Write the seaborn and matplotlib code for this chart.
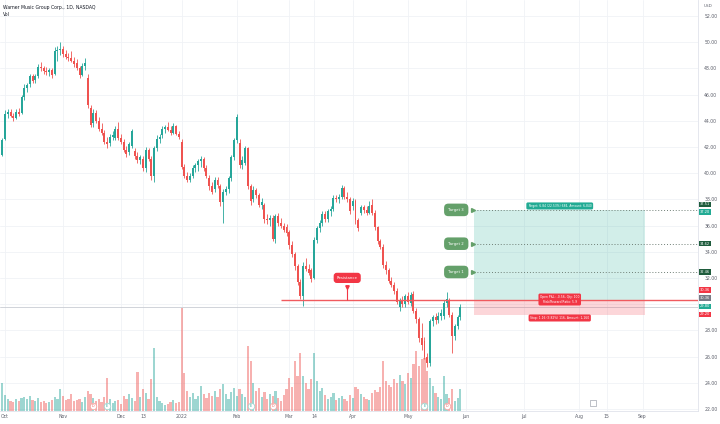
import matplotlib
matplotlib.use('Agg')
import matplotlib.pyplot as plt
import matplotlib.transforms as mtransforms
import numpy as np
import pandas as pd
import seaborn as sns

# ---- data (WMG daily, 1D) ----
holidays = ['2021-11-25', '2021-12-24', '2022-01-17', '2022-02-21', '2022-04-15',
            '2022-05-30', '2022-06-20', '2022-07-04', '2022-09-05']

opens = [41.4, 42.6, 44.5, 44.7, 44.4, 44.2, 44.7, 44.6, 45.8, 46.5,
         46.8, 47.4, 47.1, 47.4, 48.1, 48.0, 47.8, 47.7, 47.9, 47.6,
         49.3, 49.4, 49.5, 49.1, 48.9, 48.8, 48.6, 48.4, 48.0, 47.5,
         48.2, 47.3, 45.0, 43.8, 44.6, 44.0, 43.4, 43.1, 42.4, 42.3,
         42.8, 42.7, 43.4, 42.7, 42.4, 41.8, 41.6, 42.1, 41.7, 41.3,
         41.0, 41.1, 40.4, 41.8, 41.1, 39.8, 41.9, 42.6, 42.9, 43.4,
         43.5, 43.3, 43.1, 43.6, 43.0, 42.4, 40.5, 39.8, 39.5, 39.8,
         40.4, 40.6, 40.9, 41.1, 40.4, 39.6, 39.0, 38.8, 39.5, 39.0,
         37.8, 38.6, 38.8, 39.6, 41.2, 42.5, 42.3, 40.6, 40.8, 41.9,
         39.0, 38.0, 38.7, 38.3, 37.6, 37.6, 36.5, 36.4, 36.6, 35.0,
         36.7, 36.2, 36.0, 35.9, 35.5, 34.5, 33.8, 32.9, 31.7, 30.6,
         32.9, 32.7, 32.6, 32.0, 34.9, 35.8, 36.2, 36.9, 36.5, 37.1,
         37.3, 38.1, 38.0, 38.2, 38.9, 38.2, 38.0, 37.5, 37.9, 36.4,
         37.0, 37.4, 37.2, 37.0, 37.6, 37.0, 35.9, 34.8, 34.4, 33.0,
         32.6, 31.8, 31.5, 31.0, 29.8, 30.3, 30.0, 30.6, 30.1, 30.8,
         29.5, 28.9, 27.4, 27.2, 26.0, 25.5, 28.7, 29.0, 28.8, 29.1,
         29.1, 30.1, 30.3, 29.2, 27.6, 28.3, 29.0]
highs = [42.7, 44.8, 44.9, 44.9, 44.6, 44.9, 45.0, 46.0, 46.8, 46.9,
         47.6, 47.6, 47.6, 48.3, 48.5, 48.2, 48.1, 48.0, 48.0, 49.6,
         49.7, 50.0, 49.7, 49.4, 49.2, 49.3, 48.9, 48.7, 48.2, 48.4,
         48.8, 47.6, 45.2, 44.9, 44.8, 44.3, 43.8, 43.3, 42.8, 43.0,
         43.2, 43.6, 43.9, 43.0, 42.6, 42.1, 42.4, 43.4, 41.9, 41.6,
         41.4, 41.3, 42.0, 41.9, 41.3, 42.1, 42.9, 43.0, 43.6, 43.7,
         43.9, 43.6, 43.8, 43.7, 43.2, 42.6, 40.7, 40.1, 40.0, 40.6,
         40.8, 41.1, 41.3, 41.2, 40.6, 39.9, 39.3, 39.7, 39.7, 39.2,
         38.8, 39.0, 39.8, 41.4, 42.7, 44.5, 42.6, 41.3, 42.1, 42.0,
         39.2, 39.0, 38.9, 38.5, 38.1, 37.7, 36.9, 36.8, 36.8, 36.9,
         37.0, 36.6, 36.2, 36.1, 35.7, 34.8, 34.0, 33.1, 31.9, 33.2,
         33.5, 33.1, 32.8, 35.1, 36.0, 36.4, 37.1, 37.1, 37.3, 37.5,
         38.3, 38.3, 38.4, 39.1, 39.0, 38.6, 38.2, 38.1, 38.0, 36.6,
         37.6, 37.6, 37.5, 37.9, 38.0, 37.2, 36.0, 35.0, 34.6, 33.3,
         32.8, 32.1, 31.7, 31.2, 30.5, 30.6, 30.8, 30.9, 30.9, 31.0,
         29.7, 29.0, 28.6, 27.5, 26.3, 28.9, 29.2, 29.3, 29.4, 29.6,
         30.3, 30.9, 30.5, 29.4, 28.5, 29.2, 30.0]
lows = [41.3, 42.5, 44.2, 44.3, 44.0, 44.1, 44.4, 44.5, 45.6, 46.2,
        46.6, 46.9, 46.9, 47.3, 47.8, 47.6, 47.5, 47.4, 47.3, 47.5,
        48.6, 49.0, 48.9, 48.7, 48.6, 48.5, 48.1, 47.9, 47.3, 47.4,
        47.9, 45.0, 43.5, 43.5, 43.8, 43.2, 42.9, 42.2, 41.9, 42.1,
        42.5, 42.5, 42.5, 42.2, 41.6, 41.2, 41.4, 41.9, 41.1, 40.8,
        40.7, 40.2, 40.1, 40.9, 39.5, 39.3, 41.7, 42.3, 42.7, 43.1,
        43.2, 42.9, 43.0, 42.9, 42.6, 40.3, 39.6, 39.3, 39.3, 39.6,
        40.1, 40.2, 40.5, 40.2, 39.6, 38.7, 38.4, 38.6, 38.9, 37.5,
        36.2, 38.3, 38.5, 39.4, 41.0, 42.3, 40.4, 40.3, 40.6, 38.8,
        37.6, 37.8, 38.1, 37.4, 37.3, 36.2, 36.1, 36.0, 34.8, 34.7,
        36.0, 35.8, 35.5, 35.2, 34.2, 33.6, 32.6, 31.5, 30.4, 29.9,
        32.5, 32.2, 31.7, 31.9, 34.7, 35.5, 36.0, 36.3, 36.3, 36.7,
        37.1, 37.8, 37.7, 38.0, 38.0, 37.8, 36.9, 37.2, 36.1, 35.6,
        36.8, 37.0, 36.8, 36.9, 36.8, 35.7, 34.6, 34.2, 32.8, 32.3,
        31.6, 31.3, 30.8, 30.0, 29.5, 29.8, 29.8, 30.0, 29.9, 29.3,
        28.6, 27.1, 26.5, 25.8, 25.2, 25.3, 28.3, 28.5, 28.6, 28.8,
        28.9, 29.8, 29.0, 26.3, 27.3, 28.1, 28.8]
closes = [42.5, 44.5, 44.7, 44.4, 44.2, 44.7, 44.5, 45.8, 46.5, 46.7,
          47.4, 47.0, 47.4, 48.1, 48.0, 47.8, 47.7, 47.9, 47.5, 49.3,
          49.4, 49.5, 49.1, 48.9, 48.8, 48.6, 48.3, 48.0, 47.5, 48.2,
          48.4, 45.2, 43.7, 44.6, 44.0, 43.4, 43.1, 42.4, 42.2, 42.8,
          42.9, 43.4, 42.7, 42.4, 41.8, 41.5, 42.2, 43.2, 41.3, 41.0,
          41.2, 40.4, 41.8, 41.1, 39.8, 41.9, 42.6, 42.8, 43.4, 43.5,
          43.3, 43.1, 43.6, 43.0, 42.8, 40.5, 39.8, 39.5, 39.8, 40.4,
          40.6, 40.9, 41.1, 40.4, 39.8, 39.0, 38.6, 39.5, 39.1, 37.8,
          38.6, 38.8, 39.6, 41.2, 42.5, 44.3, 40.6, 41.0, 41.9, 39.0,
          37.9, 38.7, 38.3, 37.6, 37.8, 36.5, 36.4, 36.6, 35.0, 36.7,
          36.2, 36.0, 35.7, 35.4, 34.5, 33.8, 32.9, 31.7, 30.6, 32.9,
          32.7, 32.4, 31.9, 34.9, 35.8, 36.2, 36.9, 36.5, 37.1, 37.3,
          38.1, 38.0, 38.2, 38.9, 38.2, 38.0, 37.1, 37.9, 36.4, 35.8,
          37.4, 37.2, 37.0, 37.5, 37.0, 35.9, 34.8, 34.4, 33.0, 32.6,
          31.8, 31.5, 31.0, 30.2, 30.3, 30.0, 30.6, 30.2, 30.7, 29.5,
          28.9, 27.4, 26.9, 26.0, 25.5, 28.7, 29.0, 28.8, 29.1, 29.3,
          30.1, 30.4, 29.2, 27.6, 28.3, 29.0, 29.8]
volumes = [2.3, 1.3, 1.0, 0.8, 0.75, 1.0, 0.8, 1.1, 1.2, 1.0,
           1.25, 0.9, 0.85, 1.1, 0.75, 0.85, 0.7, 0.75, 0.9, 1.15,
           1.0, 1.8, 1.25, 0.9, 1.0, 1.4, 0.85, 0.9, 1.0, 0.75,
           1.15, 1.65, 1.4, 1.1, 0.85, 1.0, 0.75, 1.15, 2.75, 1.0,
           0.65, 0.85, 0.9, 0.6, 1.25, 1.0, 1.4, 1.1, 0.85, 3.25,
           1.15, 1.8, 1.5, 1.0, 2.65, 5.25, 1.15, 0.85, 0.65, 0.5,
           0.6, 0.75, 0.9, 0.65, 0.75, 8.6, 3.15, 1.65, 1.15, 1.5,
           1.0, 1.25, 2.1, 1.4, 1.1, 1.5, 1.25, 1.65, 1.15, 1.8,
           2.25, 1.4, 1.0, 1.6, 1.9, 1.25, 1.8, 1.4, 1.15, 5.4,
           4.15, 2.35, 1.65, 1.9, 1.15, 1.6, 1.0, 1.4, 1.25, 1.65,
           1.1, 0.85, 1.35, 1.8, 2.75, 2.0, 4.15, 2.9, 4.85, 2.9,
           2.35, 1.8, 2.65, 4.85, 2.5, 1.65, 1.9, 1.35, 1.0, 1.15,
           1.5, 0.9, 1.1, 1.25, 1.0, 0.85, 1.35, 1.1, 2.0, 1.8,
           1.4, 1.15, 1.0, 0.9, 1.5, 1.75, 1.6, 2.0, 4.15, 2.5,
           2.15, 2.0, 2.65, 2.35, 3.0, 2.5, 2.25, 3.15, 2.75, 3.9,
           5.0, 3.75, 4.35, 4.4, 3.35, 2.75, 2.1, 1.5, 1.15, 1.0,
           2.9, 1.4, 1.1, 1.8, 0.85, 1.1, 1.8]

tick_dates = ['2021-10-01', '2021-11-01', '2021-12-01', '2021-12-13', '2022-01-03',
              '2022-02-01', '2022-03-01', '2022-03-14', '2022-04-01', '2022-05-02',
              '2022-06-01', '2022-07-01', '2022-08-01', '2022-08-15', '2022-09-01']
tick_labels = ['Oct', 'Nov', 'Dec', '13', '2022', 'Feb', 'Mar', '14', 'Apr', 'May',
               'Jun', 'Jul', 'Aug', '15', 'Sep']
price_ticks = list(range(22, 54, 2))
hidden_price_labels = [30]   # covered by the price tags on the axis

# drawings on the chart
resistance = 30.36
resistance_start = '2022-02-24'
resistance_label_date = '2022-03-30'
targets = [32.46, 34.62, 37.20]
target_names = ['Target 1', 'Target 2', 'Target 3']
target_label_date = '2022-05-26'
position_start, position_end = '2022-06-06', '2022-09-02'
entry, take_profit, stop = 30.36, 37.20, 29.20
earnings_dates = ['2021-11-23', '2022-02-08', '2022-05-10']
dividend_dates = ['2021-11-16', '2022-02-18', '2022-05-20']
next_earnings = '2022-08-08'
axis_tags = [(37.62, '37.51', '#1f5c3d'), (37.05, '37.20', '#22ab94'),
             (34.62, '34.62', '#1f5c3d'), (32.46, '32.46', '#1f5c3d'),
             (31.08, '30.36', '#f23645'), (30.46, '30.36', '#787b86'),
             (29.84, '29.80', '#22ab94'), (29.22, '29.20', '#f23645')]

UP = '#26a69a'
DOWN = '#ef5350'

sns.set_theme(style='white')
plt.rcParams['font.family'] = ['DejaVu Sans']

calendar = pd.bdate_range('2021-09-30', '2022-09-30')
calendar = calendar[~calendar.isin(pd.to_datetime(holidays))]


def bar_index(day):
    return int(calendar.searchsorted(pd.Timestamp(day)))


df = pd.DataFrame({'open': opens, 'high': highs, 'low': lows,
                   'close': closes, 'volume': volumes})
df['idx'] = np.arange(len(df))
df['date'] = calendar[:len(df)]
df['dir'] = np.where(df['close'] >= df['open'], 'up', 'down')

y_lo, y_hi = 21.85, 53.22
x_left, x_right = -0.81, 252.1
vol_top = 34.25

fig = plt.figure(figsize=(7.2, 4.24), dpi=100)
rect = [0, 13 / 424, 698 / 720, 411 / 424]
ax_vol = fig.add_axes(rect)
ax = fig.add_axes(rect, sharex=ax_vol)
ax.patch.set_visible(False)

# volume histogram (bottom layer, also carries the grid)
sns.barplot(data=df, x='idx', y='volume', hue='dir',
            palette={'up': UP, 'down': DOWN}, native_scale=True, dodge=False,
            errorbar=None, legend=False, saturation=1, alpha=0.45,
            width=0.8, linewidth=0, ax=ax_vol)
ax_vol.set_ylim(0, vol_top)
ax_vol.set_yticks([(p - y_lo) / (y_hi - y_lo) * vol_top for p in price_ticks])
ax_vol.set_xlabel('')
ax_vol.set_ylabel('')
ax_vol.tick_params(length=0, labelleft=False, labelbottom=False)
ax_vol.grid(True, color='#f0f2f6', linewidth=0.6)
ax_vol.set_axisbelow(True)
for side in ax_vol.spines:
    ax_vol.spines[side].set_visible(False)

# candles
colors = np.where(df['dir'] == 'up', UP, DOWN)
ax.vlines(df['idx'], df['low'], df['high'], colors=colors, linewidth=0.6, zorder=3)
body_low = np.minimum(df['open'], df['close'])
body_h = np.maximum(np.abs(df['close'] - df['open']), 0.04)
ax.bar(df['idx'], body_h, bottom=body_low, width=0.72, color=colors,
       linewidth=0, zorder=3)

ax.set_xlim(x_left, x_right)
ax.set_ylim(y_lo, y_hi)

# last price line
ax.axhline(closes[-1], color='#c9ccd3', lw=0.6, zorder=1)

# long position box
x0, x1 = bar_index(position_start), bar_index(position_end)
ax.fill_between([x0, x1], entry, take_profit, color='#22ab94', alpha=0.2,
                linewidth=0, zorder=1)
ax.fill_between([x0, x1], stop, entry, color='#f23645', alpha=0.2,
                linewidth=0, zorder=1)
xm = (x0 + x1) / 2
box_font = dict(fontsize=2.2, color='white', ha='center', va='center', zorder=6)
ax.text(xm, take_profit + 0.3, 'Target: 6.84 (22.53%) 684, Amount: 6,840',
        bbox=dict(boxstyle='round,pad=0.5', fc='#22ab94', ec='none'), **box_font)
ax.text(xm, entry, 'Open P&L: -0.56, Qty: 100\nRisk/Reward Ratio: 5.9',
        bbox=dict(boxstyle='round,pad=0.5', fc='#f23645', ec='none'),
        linespacing=1.3, **box_font)
ax.text(xm, stop - 0.25, 'Stop: 1.16 (3.82%) 116, Amount: 1,160',
        bbox=dict(boxstyle='round,pad=0.5', fc='#f23645', ec='none'), **box_font)

# targets
xt = bar_index(target_label_date)
for level, name in zip(targets, target_names):
    ax.hlines(level, xt + 6, x_right, colors='#6f7f76', linestyles=(0, (1, 2)),
              linewidth=0.7, zorder=2)
    ax.text(xt - 0.5, level, name, fontsize=2.8, color='white', ha='center',
            va='center', zorder=6,
            bbox=dict(boxstyle='round,pad=1.1', fc='#64a06a', ec='none'))
    ax.plot([xt + 5.6], [level], marker='>', ms=2.8, color='#64a06a', zorder=6)

# resistance
xr = bar_index(resistance_start)
ax.hlines(resistance, xr, x_right, colors='#f05a5e', linewidth=1.0, zorder=4)
xl = bar_index(resistance_label_date)
ax.text(xl, resistance + 1.65, 'Resistance', fontsize=2.8, color='white',
        ha='center', va='center', zorder=6,
        bbox=dict(boxstyle='round,pad=0.8', fc='#f23645', ec='none'))
ax.vlines(xl, resistance, resistance + 1.0, colors='#f23645', linewidth=0.8, zorder=5)
ax.plot([xl], [resistance + 0.95], marker='v', ms=2.5, color='#f23645', zorder=6)

# earnings / dividends markers
mark_tr = mtransforms.blended_transform_factory(ax.transData, ax.transAxes)
for d in earnings_dates:
    ax.scatter(bar_index(d), 0.013, s=22, facecolor='white', edgecolor='#9fd6cf',
               linewidth=0.6, transform=mark_tr, zorder=6)
    ax.text(bar_index(d), 0.013, 'E', fontsize=2.3, color=UP, ha='center',
            va='center', transform=mark_tr, zorder=7)
for d in dividend_dates:
    ax.scatter(bar_index(d), 0.013, s=22, facecolor='white', edgecolor='#f5a5a3',
               linewidth=0.6, transform=mark_tr, zorder=6)
    ax.text(bar_index(d), 0.013, 'D', fontsize=2.3, color=DOWN, ha='center',
            va='center', transform=mark_tr, zorder=7)
ax.scatter(bar_index(next_earnings), 0.02, s=18, marker='s', facecolor='white',
           edgecolor='#b2b5be', linewidth=0.6, transform=mark_tr, zorder=6)

# axes styling
ax.yaxis.tick_right()
ax.set_yticks(price_ticks)
ax.set_yticklabels(['' if v in hidden_price_labels else f'{v:.2f}'
                    for v in price_ticks])
ax.set_xticks([bar_index(d) for d in tick_dates])
ax.set_xticklabels(tick_labels)
ax.tick_params(axis='y', length=0, pad=4.5, labelsize=3.3, labelcolor='#5d606b')
ax.tick_params(axis='x', length=0, pad=2.5, labelsize=3.3, labelcolor='#5d606b')
ax.grid(False)
for side in ['top', 'left']:
    ax.spines[side].set_visible(False)
for side in ['right', 'bottom']:
    ax.spines[side].set_color('#e0e3eb')
    ax.spines[side].set_linewidth(0.6)

# price axis tags
for pos, label, color in axis_tags:
    ax.text(1.003, pos, label, transform=ax.get_yaxis_transform(), fontsize=2.6,
            color='white', ha='left', va='center', zorder=8, clip_on=False,
            bbox=dict(boxstyle='square,pad=0.2', fc=color, ec='none'))

# header
fig.text(3 / 720, 1 - 7 / 424, 'Warner Music Group Corp., 1D, NASDAQ',
         fontsize=3.3, color='#131722', va='center')
fig.text(3 / 720, 1 - 14 / 424, 'Vol', fontsize=3.3, color='#131722', va='center')
fig.text(704 / 720, 1 - 6 / 424, 'USD', fontsize=3.0, color='#5d606b', va='center')

fig.savefig('out.png', dpi=100)
